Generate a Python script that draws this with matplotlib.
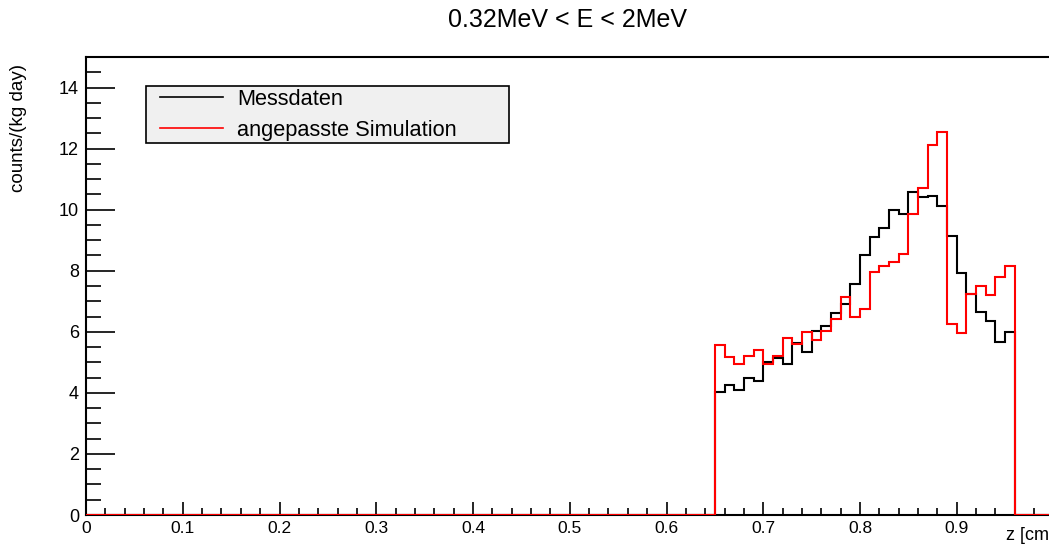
import numpy as np
import matplotlib
matplotlib.use("Agg")
import matplotlib.pyplot as plt
from matplotlib.ticker import MultipleLocator, FuncFormatter
from matplotlib.patches import Rectangle

plt.rcParams['font.family'] = ['Liberation Sans', 'DejaVu Sans']

title = "0.32MeV < E < 2MeV"
x_label = "z [cm]"
y_label = "counts/(kg day)"
series_names = ["Messdaten", "angepasste Simulation"]
series_colors = ["black", "red"]

bin_start = 0.65
bin_width = 0.01
messdaten = [4.03, 4.26, 4.10, 4.50, 4.40, 5.02, 5.13, 4.95, 5.64, 5.33,
             6.01, 6.19, 6.61, 6.91, 7.55, 8.53, 9.09, 9.39, 9.99, 9.85,
             10.59, 10.40, 10.46, 10.13, 9.14, 7.94, 7.24, 6.66, 6.36, 5.67, 5.99]
simulation = [5.56, 5.19, 4.95, 5.20, 5.41, 4.93, 5.21, 5.80, 5.60, 6.00,
              5.73, 6.03, 6.41, 7.14, 6.48, 6.76, 7.97, 8.14, 8.28, 8.55,
              9.86, 10.71, 12.11, 12.54, 6.25, 5.97, 7.24, 7.51, 7.22, 7.78, 8.17]
x_range = (0.0, 1.0)
y_range = (0.0, 15.0)

W, H = 1049, 555
fig = plt.figure(figsize=(W / 100, H / 100), dpi=100)
left, right, top, bottom = 86, 1053.5, 57, 515
ax = fig.add_axes([left / W, 1 - bottom / H, (right - left) / W, (bottom - top) / H])

n = len(messdaten)
edges = bin_start + bin_width * np.arange(n + 1)
full_edges = np.concatenate([[x_range[0]], edges, [x_range[1]]])

for vals, name, col in zip([messdaten, simulation], series_names, series_colors):
    v = np.concatenate([[0.0], vals, [0.0]])
    ax.stairs(v, full_edges, color=col, lw=1.5, label=name, baseline=None, zorder=3)

ax.set_xlim(*x_range)
ax.set_ylim(*y_range)

ax.xaxis.set_major_locator(MultipleLocator(0.1))
ax.xaxis.set_minor_locator(MultipleLocator(0.02))
ax.yaxis.set_major_locator(MultipleLocator(2))
ax.yaxis.set_minor_locator(MultipleLocator(0.5))
ax.tick_params(axis='x', which='major', direction='in', length=9.5, width=1.2, top=False,
               labelsize=12.5, pad=4)
ax.tick_params(axis='x', which='minor', direction='in', length=5, width=1.2, top=False)
ax.tick_params(axis='y', which='major', direction='in', length=21, width=1.2, right=False,
               labelsize=13, pad=5)
ax.tick_params(axis='y', which='minor', direction='in', length=10.5, width=1.2, right=False)
ax.xaxis.set_major_formatter(FuncFormatter(lambda v, p: "" if v > 0.95 else f"{v:g}"))
for s in ax.spines.values():
    s.set_linewidth(1.5)

fig.text(567 / W, 1 - 20 / H, title, ha='center', va='center', fontsize=18)
fig.text(1053.5 / W, 1 - 536 / H, x_label, ha='right', va='center', fontsize=13)
fig.text(19 / W, 1 - 128 / H, y_label, ha='center', va='center', rotation=90, fontsize=13.5)

# legend frame
fig.patches.append(Rectangle((146 / W, 1 - 143 / H), 363 / W, 57 / H,
                             transform=fig.transFigure, facecolor='#f0f0f0',
                             edgecolor='black', lw=1.2, zorder=5))
handles, labels = ax.get_legend_handles_labels()
leg = fig.legend(handles, labels, loc='center left', bbox_to_anchor=(160 / W, 1 - 115 / H),
                 bbox_transform=fig.transFigure, borderaxespad=0, borderpad=0,
                 fontsize=15.7, frameon=False,
                 handlelength=2.9, handletextpad=0.65, labelspacing=0.45)
leg.set_zorder(6)
for h in leg.get_lines():
    h.set_linewidth(1.2)

fig.savefig("out.png", dpi=100)
